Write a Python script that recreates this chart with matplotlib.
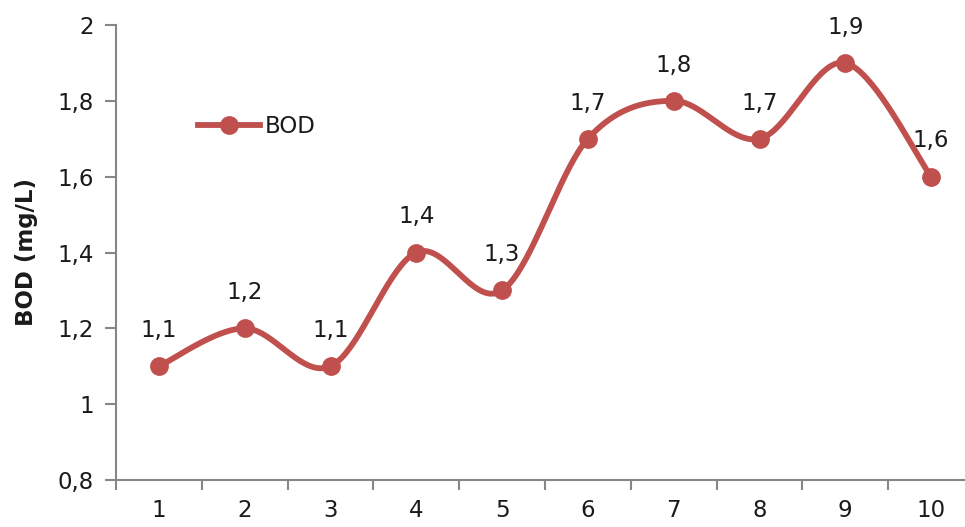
import numpy as np
import matplotlib
matplotlib.use("Agg")
import matplotlib.pyplot as plt
from matplotlib.ticker import FixedLocator, FuncFormatter

# Sampling points and measured BOD values
samples = [1, 2, 3, 4, 5, 6, 7, 8, 9, 10]
bod = [1.1, 1.2, 1.1, 1.4, 1.3, 1.7, 1.8, 1.7, 1.9, 1.6]
y_ticks = [0.8, 1.0, 1.2, 1.4, 1.6, 1.8, 2.0]

line_color = "#C0504D"
axis_color = "#868686"
text_color = "#1a1a1a"
fs = 16.5

plt.rcParams["font.family"] = ["DejaVu Sans"]


def fmt_comma(v):
    s = f"{v:.1f}".rstrip("0").rstrip(".")
    return s.replace(".", ",")


def smooth_curve(x, y, steps=40):
    """Cubic Bezier smoothing through every point (Catmull-Rom style)."""
    x = np.asarray(x, float)
    y = np.asarray(y, float)
    px = np.concatenate([[x[0]], x, [x[-1]]])
    py = np.concatenate([[y[0]], y, [y[-1]]])
    xs, ys = [], []
    t = np.linspace(0, 1, steps)
    for i in range(1, len(px) - 2):
        p0 = np.array([px[i], py[i]])
        p3 = np.array([px[i + 1], py[i + 1]])
        c1 = p0 + (np.array([px[i + 1], py[i + 1]]) - np.array([px[i - 1], py[i - 1]])) / 6
        c2 = p3 - (np.array([px[i + 2], py[i + 2]]) - np.array([px[i], py[i]])) / 6
        b = ((1 - t) ** 3)[:, None] * p0 + (3 * (1 - t) ** 2 * t)[:, None] * c1 \
            + (3 * (1 - t) * t ** 2)[:, None] * c2 + (t ** 3)[:, None] * p3
        xs.extend(b[:, 0])
        ys.extend(b[:, 1])
    return np.array(xs), np.array(ys)


fig = plt.figure(figsize=(9.65, 5.27), dpi=100)
W, H = 965, 527
left, right, top, bottom = 116, 974, 25, 480
ax = fig.add_axes([left / W, 1 - bottom / H, (right - left) / W, (bottom - top) / H])

sx, sy = smooth_curve(samples, bod)
ax.plot(sx, sy, color=line_color, lw=4.2, solid_capstyle="round", zorder=2)
ax.plot(samples, bod, "o", color=line_color, ms=12.5, zorder=3)

# legend entry drawn as a line with a marker
ax.plot([], [], color=line_color, lw=4.2, marker="o", ms=12.5, label="BOD")
leg = ax.legend(loc="center left",
                bbox_to_anchor=((198 - left) / (right - left), 1 - (127 - top) / (bottom - top)),
                frameon=False, fontsize=fs, handlelength=2.7, handletextpad=0.2,
                borderaxespad=0, borderpad=0)
for t in leg.get_texts():
    t.set_color(text_color)

for xv, yv in zip(samples, bod):
    ax.annotate(fmt_comma(yv), (xv, yv), xytext=(0, 21), textcoords="offset points",
                ha="center", va="baseline", fontsize=fs, color=text_color)

ax.set_xlim(0.5, 10.5)
ax.set_ylim(0.8, 2.0)

ax.yaxis.set_major_locator(FixedLocator(y_ticks))
ax.yaxis.set_major_formatter(FuncFormatter(lambda v, p: fmt_comma(v)))

# category boundaries carry the tick marks, labels sit at category centres
ax.xaxis.set_major_locator(FixedLocator(np.arange(0.5, 11.0, 1.0)))
ax.xaxis.set_major_formatter(FuncFormatter(lambda v, p: ""))
ax.xaxis.set_minor_locator(FixedLocator(samples))
ax.xaxis.set_minor_formatter(FuncFormatter(lambda v, p: str(int(round(v)))))
ax.tick_params(axis="x", which="minor", length=0, pad=14, labelsize=fs, labelcolor=text_color)
ax.tick_params(axis="x", which="major", length=7, width=1.5, color=axis_color, direction="out")
ax.tick_params(axis="y", which="major", length=8, width=1.5, color=axis_color, direction="out",
               pad=8, labelsize=fs, labelcolor=text_color)

for side in ("top", "right"):
    ax.spines[side].set_visible(False)
for side in ("left", "bottom"):
    ax.spines[side].set_color(axis_color)
    ax.spines[side].set_linewidth(1.5)

ax.set_ylabel("BOD (mg/L)", fontsize=16.5, fontweight="bold", color=text_color)
ax.yaxis.set_label_coords(-(116 - 38) / (right - left), 0.5)

fig.savefig("out.png", dpi=100)
